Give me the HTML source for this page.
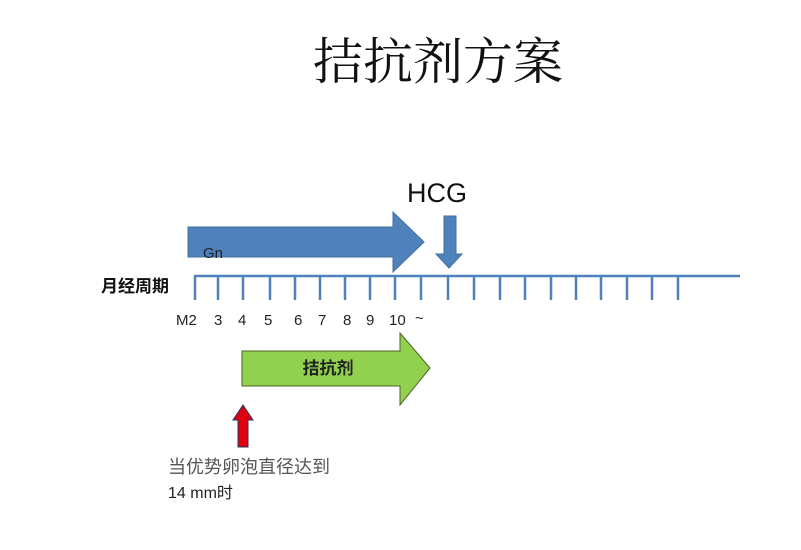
<!DOCTYPE html>
<html><head><meta charset="utf-8"><style>
html,body{margin:0;padding:0;background:#fff;width:801px;height:550px;overflow:hidden}
svg{display:block}
</style></head><body>
<svg width="801" height="550" viewBox="0 0 801 550" xmlns="http://www.w3.org/2000/svg">
<text x="438" y="79" text-anchor="middle" font-family="'Noto Serif CJK SC','Noto Sans CJK SC',serif" font-size="50" fill="#111">拮抗剂方案</text>
<text x="437" y="202" text-anchor="middle" font-family="'Liberation Sans',sans-serif" font-size="27" fill="#111">HCG</text>
<polygon points="188,227 393,227 393,212 424,242 393,272 393,257 188,257" fill="#4f81bd" stroke="#41719c" stroke-width="1"/>
<text x="203" y="258" font-family="'Liberation Sans',sans-serif" font-size="15" fill="#222">Gn</text>
<polygon points="444,216 456,216 456,254 462,254 449,268 436,254 444,254" fill="#4f81bd" stroke="#41719c" stroke-width="1"/>
<g stroke="#4f81bd" stroke-width="2.5" fill="none">
<line x1="194" y1="276" x2="740" y2="276"/>
<path d="M195 276v24M218 276v24M243 276v24M270 276v24M295 276v24M320 276v24M345 276v24M370 276v24M395 276v24M421 276v24M448 276v24M474 276v24M500 276v24M525 276v24M551 276v24M576 276v24M601 276v24M627 276v24M652 276v24M678 276v24"/>
</g>
<text x="101" y="292" font-family="'Liberation Sans','Noto Sans CJK SC',sans-serif" font-size="17" font-weight="bold" fill="#111">月经周期</text>
<g font-family="'Liberation Sans',sans-serif" font-size="15" fill="#222">
<text x="176" y="325">M2</text><text x="214" y="325">3</text><text x="238" y="325">4</text><text x="264" y="325">5</text><text x="294" y="325">6</text><text x="318" y="325">7</text><text x="343" y="325">8</text><text x="366" y="325">9</text><text x="389" y="325">10</text><text x="415" y="323">~</text>
</g>
<polygon points="242,351 400,351 400,333 430,368 400,405 400,386 242,386" fill="#92d050" stroke="#4f6228" stroke-width="1"/>
<text x="328" y="374" text-anchor="middle" font-family="'Noto Sans CJK SC',sans-serif" font-size="17" font-weight="bold" fill="#222">拮抗剂</text>
<polygon points="238,447 238,420 233,420 243,405 253,420 248,420 248,447" fill="#e00010" stroke="#1f3864" stroke-width="1"/>
<text x="168" y="473" font-family="'Liberation Sans','Noto Sans CJK SC',sans-serif" font-size="18" fill="#555">当优势卵泡直径达到</text>
<text x="168" y="498" font-family="'Liberation Sans','Noto Sans CJK SC',sans-serif" font-size="16" fill="#222">14 mm时</text>
</svg>
</body></html>
